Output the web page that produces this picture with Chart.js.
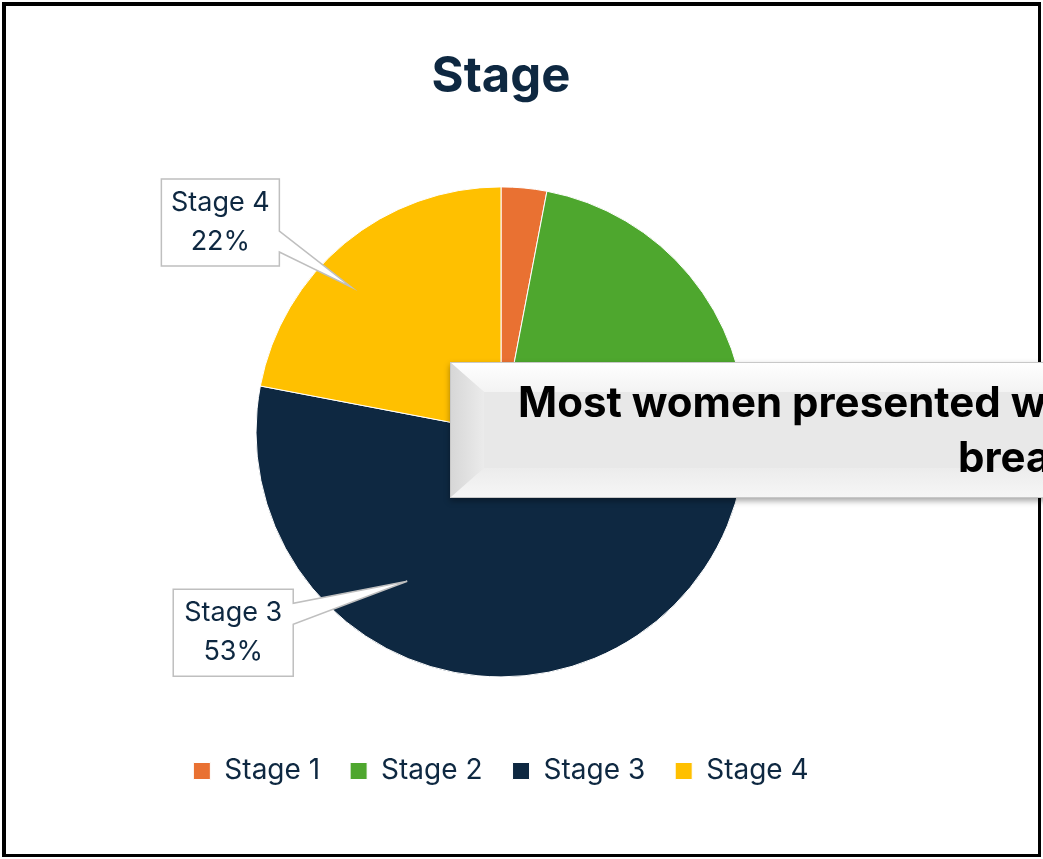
<!DOCTYPE html>
<html>
<head>
<meta charset="utf-8">
<script src="https://cdn.jsdelivr.net/npm/chart.js@4"></script>
<style>
  html, body { margin: 0; padding: 0; background: #ffffff; }
  #wrap { position: relative; width: 1043px; height: 859px; }
</style>
</head>
<body>
<div id="wrap"><canvas id="stageChart" width="1043" height="859"></canvas></div>
<script>
// chart data
const stageLabels = ['Stage 1', 'Stage 2', 'Stage 3', 'Stage 4'];
const stageShares = [3, 22, 53, 22];
const stageColours = ['#e97132', '#4ea72e', '#0e2841', '#ffc000'];
const calloutLines = ['Most women presented with', 'breast cancer'];

const navy = '#0e2841';
const fontFamily = 'Inter, "Open Sans", sans-serif';

// data callouts for Stage 4 and Stage 3 (the other two are not labelled)
const dataCallouts = [
    { index: 3, angleFrac: 0.42, radiusFrac: 0.85, dx: -131, dy: -64.5, w: 118, h: 87, base: [52, 73] },
    { index: 2, angleFrac: 0.64, radiusFrac: 0.72, dx: -174, dy: 51.5, w: 120, h: 87, base: [14, 35] }
];

const framePlugin = {
    id: 'frame',
    beforeDraw(chart) {
        const c = chart.ctx;
        c.save();
        c.fillStyle = '#ffffff';
        c.fillRect(0, 0, chart.width, chart.height);
        c.restore();
    },
    afterDraw(chart) {
        const c = chart.ctx;
        c.save();
        c.fillStyle = '#000000';
        c.fillRect(2, 2, 1039, 4);      // top
        c.fillRect(2, 2, 4, 855);       // left
        c.fillRect(1038, 2, 3, 855);    // right
        c.fillRect(2, 854, 1039, 3);    // bottom
        c.restore();
    }
};

const labelPlugin = {
    id: 'stageCallouts',
    afterDatasetsDraw(chart) {
        const c = chart.ctx;
        const meta = chart.getDatasetMeta(0);
        dataCallouts.forEach(function (d) {
            const arc = meta.data[d.index];
            const ang = arc.startAngle + (arc.endAngle - arc.startAngle) * d.angleFrac;
            const r = arc.outerRadius * d.radiusFrac;
            const tipX = arc.x + Math.cos(ang) * r;
            const tipY = arc.y + Math.sin(ang) * r;
            const left = tipX + d.dx - d.w / 2;
            const top = tipY + d.dy - d.h / 2;
            const right = left + d.w;
            const bottom = top + d.h;

            c.save();
            c.beginPath();
            c.moveTo(left, top);
            c.lineTo(right, top);
            c.lineTo(right, top + d.base[0]);
            c.lineTo(tipX, tipY);
            c.lineTo(right, top + d.base[1]);
            c.lineTo(right, bottom);
            c.lineTo(left, bottom);
            c.closePath();
            c.fillStyle = '#ffffff';
            c.fill();
            c.lineWidth = 1.5;
            c.strokeStyle = '#bfbfbf';
            c.stroke();

            const pct = Math.round(stageShares[d.index] / stageShares.reduce((a, b) => a + b, 0) * 100);
            c.fillStyle = navy;
            c.font = '27px ' + fontFamily;
            c.textAlign = 'center';
            c.textBaseline = 'middle';
            const cx = left + d.w / 2;
            const cy = top + d.h / 2;
            c.fillText(stageLabels[d.index], cx, cy - 19.5);
            c.fillText(pct + '%', cx, cy + 19.5);
            c.restore();
        });
    }
};

// the bevelled text box laid over the chart (runs off the right edge)
const textBoxPlugin = {
    id: 'textBox',
    afterDraw(chart) {
        const c = chart.ctx;
        const x0 = 450, y0 = 362, x1 = 1100, y1 = 498, bv = 34, bh = 30;
        c.save();
        // shadow
        c.shadowColor = 'rgba(0,0,0,0.35)';
        c.shadowBlur = 6;
        c.shadowOffsetY = 3;
        c.fillStyle = '#e8e8e8';
        c.fillRect(x0, y0, x1 - x0, y1 - y0);
        c.shadowColor = 'transparent';

        // top bevel
        let g = c.createLinearGradient(0, y0, 0, y0 + bh);
        g.addColorStop(0, '#ffffff');
        g.addColorStop(1, '#f3f3f3');
        c.fillStyle = g;
        c.beginPath();
        c.moveTo(x0, y0); c.lineTo(x1, y0); c.lineTo(x1, y0 + bh); c.lineTo(x0 + bv, y0 + bh);
        c.closePath(); c.fill();

        // left bevel
        g = c.createLinearGradient(x0, 0, x0 + bv, 0);
        g.addColorStop(0, '#d6d6d6');
        g.addColorStop(1, '#ebebeb');
        c.fillStyle = g;
        c.beginPath();
        c.moveTo(x0, y0); c.lineTo(x0 + bv, y0 + bh); c.lineTo(x0 + bv, y1 - bh); c.lineTo(x0, y1);
        c.closePath(); c.fill();

        // bottom bevel
        g = c.createLinearGradient(0, y1 - bh, 0, y1);
        g.addColorStop(0, '#ececec');
        g.addColorStop(1, '#f6f6f6');
        c.fillStyle = g;
        c.beginPath();
        c.moveTo(x0, y1); c.lineTo(x0 + bv, y1 - bh); c.lineTo(x1, y1 - bh); c.lineTo(x1, y1);
        c.closePath(); c.fill();

        c.strokeStyle = '#c8c8c8';
        c.lineWidth = 1;
        c.strokeRect(x0 + 0.5, y0 + 0.5, x1 - x0, y1 - y0 - 1);

        c.fillStyle = '#000000';
        c.font = 'bold 42px ' + fontFamily;
        c.textAlign = 'left';
        c.textBaseline = 'alphabetic';
        c.fillText(calloutLines[0], 518, 417);
        c.fillText(calloutLines[1], 958, 472);
        c.restore();
    }
};

document.addEventListener('DOMContentLoaded', function () {
    const ctx = document.getElementById('stageChart').getContext('2d');

    new Chart(ctx, {
        type: 'pie',
        data: {
            labels: stageLabels,
            datasets: [{
                data: stageShares,
                backgroundColor: stageColours,
                borderColor: '#ffffff',
                borderWidth: 1,
                radius: 245
            }]
        },
        options: {
            responsive: false,
            animation: false,
            layout: {
                padding: { left: 0, right: 41, top: 0, bottom: 64 }
            },
            plugins: {
                title: {
                    display: true,
                    text: 'Stage',
                    color: navy,
                    font: { family: fontFamily, size: 49, weight: 'bold' },
                    padding: { top: 48, bottom: 30 }
                },
                legend: {
                    display: true,
                    position: 'bottom',
                    labels: {
                        color: navy,
                        font: { family: fontFamily, size: 28 },
                        boxWidth: 17,
                        boxHeight: 17,
                        padding: 30
                    }
                },
                tooltip: { enabled: false }
            }
        },
        plugins: [framePlugin, labelPlugin, textBoxPlugin]
    });
});
</script>
</body>
</html>
